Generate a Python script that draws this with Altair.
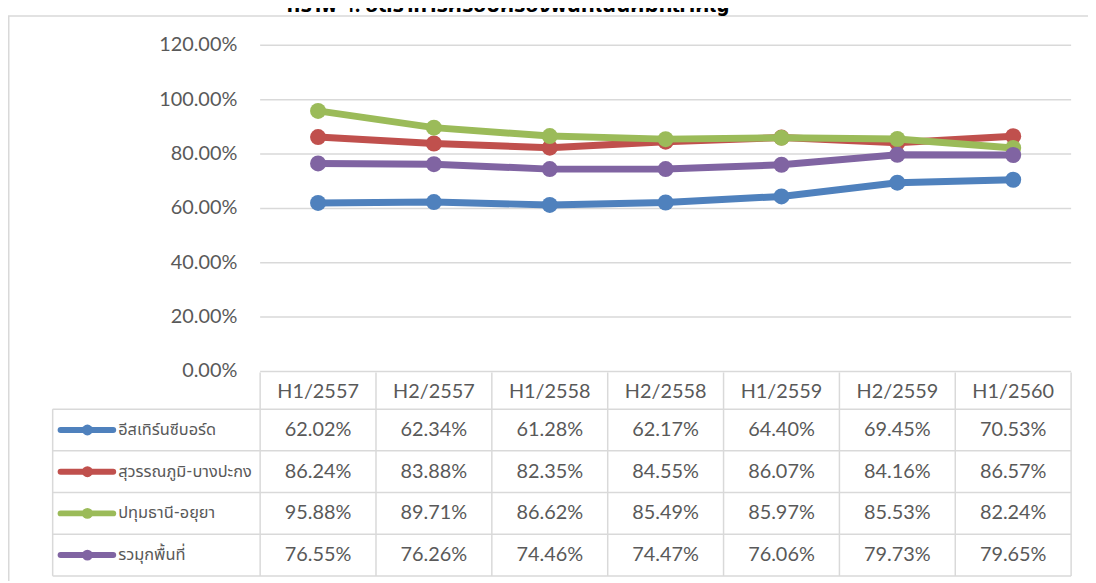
import altair as alt
import pandas as pd

periods = ["H1/2557", "H2/2557", "H1/2558", "H2/2558", "H1/2559", "H2/2559", "H1/2560"]
series_names = ["อีสเทิร์นซีบอร์ด", "สุวรรณภูมิ-บางปะกง", "ปทุมธานี-อยุยา", "รวมุกพื้นที่"]
eastern = [62.02, 62.34, 61.28, 62.17, 64.40, 69.45, 70.53]
suvarnabhumi = [86.24, 83.88, 82.35, 84.55, 86.07, 84.16, 86.57]
pathum = [95.88, 89.71, 86.62, 85.49, 85.97, 85.53, 82.24]
total = [76.55, 76.26, 74.46, 74.47, 76.06, 79.73, 79.65]
colors = ["#4f81bd", "#c0504d", "#9bbb59", "#8064a2"]
ticks = [0.0, 0.2, 0.4, 0.6, 0.8, 1.0, 1.2]
title_text = "กราฟ 4. อัตราการครอบครองพื้นที่ในนิคมที่สำคัญ"

rows = []
for name, vals in zip(series_names, [eastern, suvarnabhumi, pathum, total]):
    for p, v in zip(periods, vals):
        rows.append({"series": name, "period": p, "value": v / 100.0})
df = pd.DataFrame(rows)
period_df = pd.DataFrame({"period": periods})
series_df = pd.DataFrame({"series": series_names})
tick_df = pd.DataFrame({"tick": ticks})
one = pd.DataFrame({"a": [0]})

FONT = "Lato, 'Noto Sans Thai', Tahoma, sans-serif"
TXT = "#595959"
LINE = "#d9d9d9"
X_RANGE = [254, 1071]


def xp(bp=0.5):
    return alt.X("period:N", scale=alt.Scale(type="band", domain=periods, range=X_RANGE,
                                            paddingInner=0, paddingOuter=0),
                 axis=None, bandPosition=bp)


def yv(field):
    return alt.Y(field, scale=alt.Scale(domain=[0, 1.2], range=[364, 35.5], nice=False, zero=False),
                 axis=None)


def yr(bp=0.5):
    return alt.Y("series:N", scale=alt.Scale(type="band", domain=series_names, range=[402, 570],
                                            paddingInner=0, paddingOuter=0),
                 axis=None, bandPosition=bp)


color = alt.Color("series:N", scale=alt.Scale(domain=series_names, range=colors), legend=None)

layers = []
# frame
layers.append(alt.Chart(one).mark_rule(color=LINE, strokeWidth=1.5).encode(
    x=alt.value(0.75), y=alt.value(6), y2=alt.value(575)))
layers.append(alt.Chart(one).mark_rule(color=LINE, strokeWidth=1.5).encode(
    x=alt.value(0), x2=alt.value(1088), y=alt.value(6)))
# title (cut off at top like the reference)
layers.append(alt.Chart(one).mark_text(text=title_text, font=FONT, fontSize=22, fontWeight="bold",
                                       color="black", baseline="alphabetic").encode(
    x=alt.value(504), y=alt.value(2)))
# gridlines
layers.append(alt.Chart(tick_df).mark_rule(color=LINE, strokeWidth=1.5).encode(
    y=yv("tick:Q"), x=alt.value(X_RANGE[0]), x2=alt.value(X_RANGE[1])))
# y labels
layers.append(alt.Chart(tick_df).mark_text(align="right", baseline="middle", font=FONT,
                                           fontSize=20, color=TXT).encode(
    y=yv("tick:Q"), x=alt.value(231), text=alt.Text("tick:Q", format=".2%")))
# series lines + markers
for name in series_names:
    base = alt.Chart(df).transform_filter(alt.datum.series == name)
    layers.append(base.mark_line(strokeWidth=7).encode(x=xp(), y=yv("value:Q"), color=color))
    layers.append(base.mark_circle(size=260, opacity=1).encode(x=xp(), y=yv("value:Q"), color=color))
# table: vertical borders
layers.append(alt.Chart(period_df).mark_rule(color=LINE, strokeWidth=1.5).encode(
    x=xp(0), y=alt.value(365), y2=alt.value(570)))
layers.append(alt.Chart(period_df).transform_filter(alt.datum.period == periods[-1])
              .mark_rule(color=LINE, strokeWidth=1.5).encode(
    x=xp(1), y=alt.value(365), y2=alt.value(570)))
layers.append(alt.Chart(one).mark_rule(color=LINE, strokeWidth=1.5).encode(
    x=alt.value(45), y=alt.value(402), y2=alt.value(570)))
# table: horizontal borders
layers.append(alt.Chart(series_df).mark_rule(color=LINE, strokeWidth=1.5).encode(
    y=yr(0), x=alt.value(45), x2=alt.value(X_RANGE[1])))
layers.append(alt.Chart(series_df).transform_filter(alt.datum.series == series_names[-1])
              .mark_rule(color=LINE, strokeWidth=1.5).encode(
    y=yr(1), x=alt.value(45), x2=alt.value(X_RANGE[1])))
# header labels
layers.append(alt.Chart(period_df).mark_text(font=FONT, fontSize=20, color=TXT, baseline="middle").encode(
    x=xp(), y=alt.value(384.5), text="period:N"))
# cell values
layers.append(alt.Chart(df).mark_text(font=FONT, fontSize=20, color=TXT, baseline="middle").encode(
    x=xp(), y=yr(), text=alt.Text("value:Q", format=".2%")))
# legend keys
layers.append(alt.Chart(series_df).mark_rule(strokeWidth=6, strokeCap="round").encode(
    y=yr(), x=alt.value(53), x2=alt.value(106), color=color))
layers.append(alt.Chart(series_df).mark_circle(size=120, opacity=1).encode(
    y=yr(), x=alt.value(80), color=color))
layers.append(alt.Chart(series_df).mark_text(align="left", baseline="middle", font=FONT,
                                             fontSize=16.5, color=TXT).encode(
    y=yr(), x=alt.value(111), text="series:N"))

chart = alt.layer(*layers).resolve_scale(y="independent").properties(
    width=1088, height=575, padding=0,
    autosize=alt.AutoSizeParams(type="none"),
).configure_view(strokeWidth=0)

chart.save("out.html", embed_options={"renderer": "svg", "actions": False})
